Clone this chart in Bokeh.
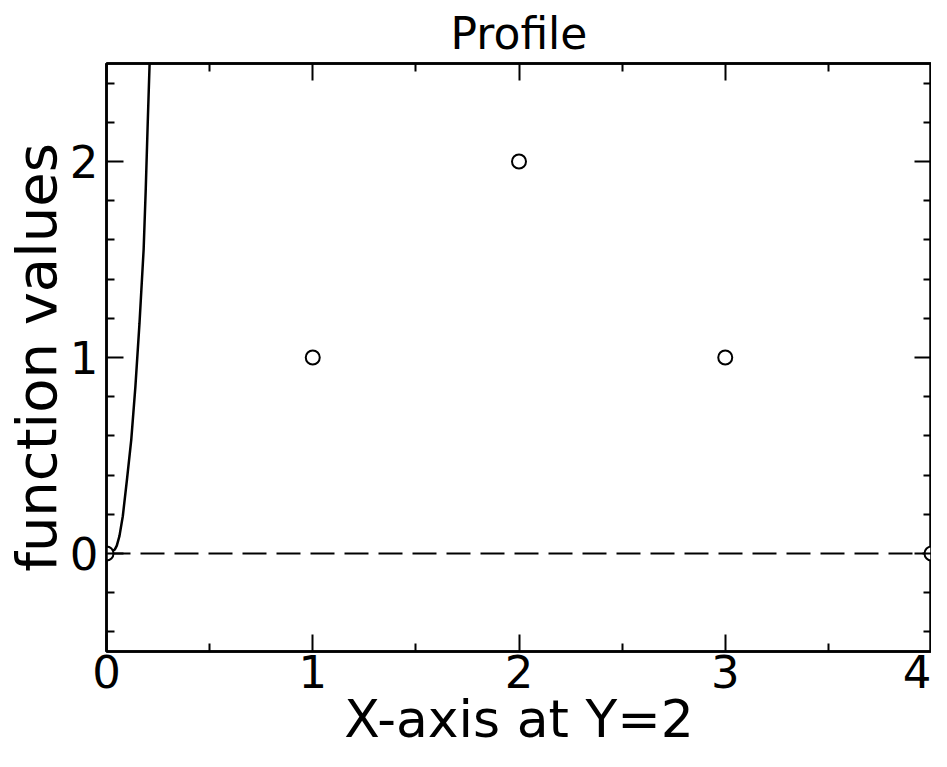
from bokeh.plotting import figure
from bokeh.models import Range1d, FixedTicker, LinearAxis, CustomJSTickFormatter
from bokeh.embed import file_html
from bokeh.resources import INLINE

# Data points (open circles)
pts_x = [0, 1, 2, 3, 4]
pts_y = [0, 1, 2, 1, 0]

# Steep solid curve near x=0
curve_x = [0.0, 0.02, 0.04, 0.05, 0.063, 0.079, 0.099, 0.12, 0.14, 0.16, 0.18, 0.19, 0.2, 0.209]
curve_y = [0.0, 0.005, 0.02, 0.04, 0.09, 0.19, 0.375, 0.58, 0.85, 1.175, 1.55, 1.85, 2.2, 2.5]

# Dashed reference line
ref_x = [0, 4]
ref_y = [0, 0]

x_major = [0, 1, 2, 3, 4]
x_minor = [0.5, 1.5, 2.5, 3.5]
y_major = [0, 1, 2]
y_minor = [-0.4, -0.2, 0.2, 0.4, 0.6, 0.8, 1.2, 1.4, 1.6, 1.8, 2.2, 2.4]

FONT = "DejaVu Sans"

p = figure(width=931, height=751, output_backend="svg", toolbar_location=None,
           x_range=Range1d(0, 4), y_range=Range1d(-0.5, 2.5),
           title="Profile", x_axis_label="X-axis at Y=2", y_axis_label="function values",
           min_border_left=100, min_border_right=0, min_border_top=0, min_border_bottom=0)

p.title.align = "center"
p.title.text_font = FONT
p.title.text_font_size = "44px"
p.title.text_font_style = "normal"
p.title.text_color = "black"

p.grid.visible = False
p.outline_line_color = "black"
p.outline_line_width = 2.5

def style_axis(ax, major, minor, show_labels):
    ax.ticker = FixedTicker(ticks=major, minor_ticks=minor)
    ax.axis_line_color = "black"
    ax.axis_line_width = 2.5
    ax.major_tick_in = 17
    ax.major_tick_out = 0
    ax.minor_tick_in = 8
    ax.minor_tick_out = 0
    ax.major_tick_line_width = 2
    ax.minor_tick_line_width = 2
    ax.major_tick_line_color = "black"
    ax.minor_tick_line_color = "black"
    if show_labels:
        ax.major_label_text_font = FONT
        ax.major_label_text_font_size = "45px"
        ax.major_label_text_color = "black"
        ax.axis_label_text_font = FONT
        ax.axis_label_text_font_style = "normal"
        ax.axis_label_text_color = "black"
    else:
        ax.formatter = CustomJSTickFormatter(code="return ''")
        ax.major_label_text_font_size = "0px"
        ax.major_label_standoff = 0
        ax.axis_label_standoff = 0

style_axis(p.xaxis[0], x_major, x_minor, True)
style_axis(p.yaxis[0], y_major, y_minor, True)
p.xaxis[0].major_label_standoff = 3
p.xaxis[0].axis_label_text_font_size = "52px"
p.xaxis[0].axis_label_standoff = -2
p.yaxis[0].major_label_orientation = "horizontal"
p.yaxis[0].major_label_standoff = 8
p.yaxis[0].axis_label_text_font_size = "56px"
p.yaxis[0].axis_label_standoff = -2

top_ax = LinearAxis()
right_ax = LinearAxis()
style_axis(top_ax, x_major, x_minor, False)
style_axis(right_ax, y_major, y_minor, False)
p.add_layout(top_ax, "above")
p.add_layout(right_ax, "right")

p.line(ref_x, ref_y, line_color="black", line_width=1.8, line_dash="24 10")
p.line(curve_x, curve_y, line_color="black", line_width=2.5)
p.scatter(pts_x, pts_y, marker="circle", size=14, fill_color="white",
          line_color="black", line_width=2)

open("out.html", "w").write(file_html(p, INLINE))
